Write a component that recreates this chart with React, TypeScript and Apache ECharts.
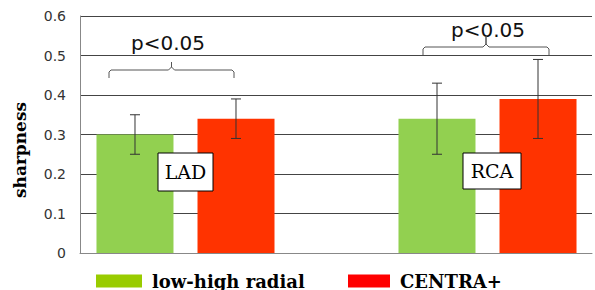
import React, { useEffect, useRef } from "react";
import * as echarts from "echarts";

const categories = ["LAD", "RCA"];
const seriesNames = ["low-high radial", "CENTRA+"];
const lowHighValues = [0.30, 0.34];
const lowHighErrors = [0.05, 0.09];
const centraValues = [0.34, 0.39];
const centraErrors = [0.05, 0.10];
const yTicks = { min: 0, max: 0.6, interval: 0.1 };
// category index extent shown along the x axis
const xExtent = { min: -0.3493, max: 1.346 };

const BAR_W = 77;
const BAR_GAP = 24;

function errorSeries(values: number[], errors: number[], offset: number) {
  return {
    type: "custom",
    z: 5,
    data: values.map((v, i) => [i, v - errors[i], v + errors[i]]),
    renderItem: (params: any, api: any) => {
      const lo = api.coord([api.value(0), api.value(1)]);
      const hi = api.coord([api.value(0), api.value(2)]);
      const x = lo[0] + offset;
      const cap = 5;
      const st = { stroke: "#333", lineWidth: 1 };
      return {
        type: "group",
        children: [
          { type: "line", shape: { x1: x, y1: lo[1], x2: x, y2: hi[1] }, style: st },
          { type: "line", shape: { x1: x - cap, y1: lo[1], x2: x + cap, y2: lo[1] }, style: st },
          { type: "line", shape: { x1: x - cap, y1: hi[1], x2: x + cap, y2: hi[1] }, style: st },
        ],
      };
    },
  };
}

function brace(x0: number, x1: number, yh: number, ytip: number, ytop: number) {
  const xm = (x0 + x1) / 2;
  return {
    type: "polyline",
    z: 10,
    shape: {
      points: [
        [x0, ytip], [x0, yh + 2], [x0 + 2, yh], [xm - 3, yh], [xm, yh - 3], [xm, ytop],
        [xm, yh - 3], [xm + 3, yh], [x1 - 2, yh], [x1, yh + 2], [x1, ytip],
      ],
    },
    style: { stroke: "#555", lineWidth: 1, fill: null },
  };
}

function labelBox(text: string, x: number, y: number, w: number, h: number) {
  return [
    { type: "rect", z: 20, shape: { x, y, width: w, height: h }, style: { fill: "#fff", stroke: "#000", lineWidth: 1 } },
    {
      type: "text", z: 21, x: x + w / 2, y: y + h / 2,
      style: { text, font: "19px 'DejaVu Serif'", fill: "#000", textAlign: "center", textVerticalAlign: "middle" },
    },
  ];
}

export default function App() {
  const ref = useRef<HTMLDivElement>(null);
  useEffect(() => {
    if (!ref.current) return;
    const chart = echarts.init(ref.current, null, { renderer: "svg" });
    const half = (BAR_W + BAR_GAP) / 2;
    const legendText = { fontFamily: "DejaVu Serif", fontWeight: "bold", fontSize: 18, color: "#000", padding: [0, 0, 0, 5] };
    chart.setOption({
      animation: false,
      backgroundColor: "#fff",
      grid: { left: 80, right: 3, top: 16, bottom: 37 },
      xAxis: {
        type: "value", min: xExtent.min, max: xExtent.max,
        axisLabel: { show: false }, axisTick: { show: false }, splitLine: { show: false },
        axisLine: { show: true, onZero: false, lineStyle: { color: "#888" } },
      },
      yAxis: {
        type: "value", min: yTicks.min, max: yTicks.max, interval: yTicks.interval,
        axisLine: { show: true, onZero: false, lineStyle: { color: "#888" } },
        axisTick: { show: false },
        axisLabel: { fontFamily: "DejaVu Sans", fontSize: 14, color: "#333", margin: 14 },
        splitLine: { lineStyle: { color: "#444", width: 1 } },
      },
      legend: [
        {
          left: 96, top: 272, itemWidth: 46, itemHeight: 13, icon: "rect", padding: 0,
          data: [{ name: seriesNames[0], itemStyle: { color: "#99cc00" } }],
          textStyle: legendText,
        },
        {
          left: 348, top: 272, itemWidth: 42, itemHeight: 13, icon: "rect", padding: 0,
          data: [{ name: seriesNames[1], itemStyle: { color: "#ff0000" } }],
          textStyle: legendText,
        },
      ],
      series: [
        {
          name: seriesNames[0], type: "bar",
          data: lowHighValues.map((v, i) => [i, v]), barWidth: BAR_W,
          barGap: (BAR_GAP / BAR_W * 100).toFixed(1) + "%",
          itemStyle: { color: "#92d050" },
        },
        {
          name: seriesNames[1], type: "bar",
          data: centraValues.map((v, i) => [i, v]), barWidth: BAR_W,
          itemStyle: { color: "#ff3300" },
        },
        errorSeries(lowHighValues, lowHighErrors, -half),
        errorSeries(centraValues, centraErrors, half),
      ],
      graphic: [
        {
          type: "text", x: 20, y: 150, rotation: Math.PI / 2,
          style: { text: "sharpness", font: "bold 17px 'DejaVu Serif'", fill: "#000", textAlign: "center", textVerticalAlign: "middle" },
        },
        {
          type: "text", x: 168, y: 43,
          style: { text: "p<0.05", font: "20px 'DejaVu Sans'", fill: "#111", textAlign: "center", textVerticalAlign: "middle" },
        },
        {
          type: "text", x: 488, y: 30,
          style: { text: "p<0.05", font: "20px 'DejaVu Sans'", fill: "#111", textAlign: "center", textVerticalAlign: "middle" },
        },
        brace(109, 234, 70, 78, 62),
        brace(423, 549, 47, 55, 36),
        ...labelBox(categories[0], 158, 153, 55, 38),
        ...labelBox(categories[1], 463, 153, 58, 36),
      ],
    });
    return () => chart.dispose();
  }, []);
  return <div ref={ref} style={{ position: "fixed", left: 0, top: 0, width: 595, height: 290 }} />;
}
